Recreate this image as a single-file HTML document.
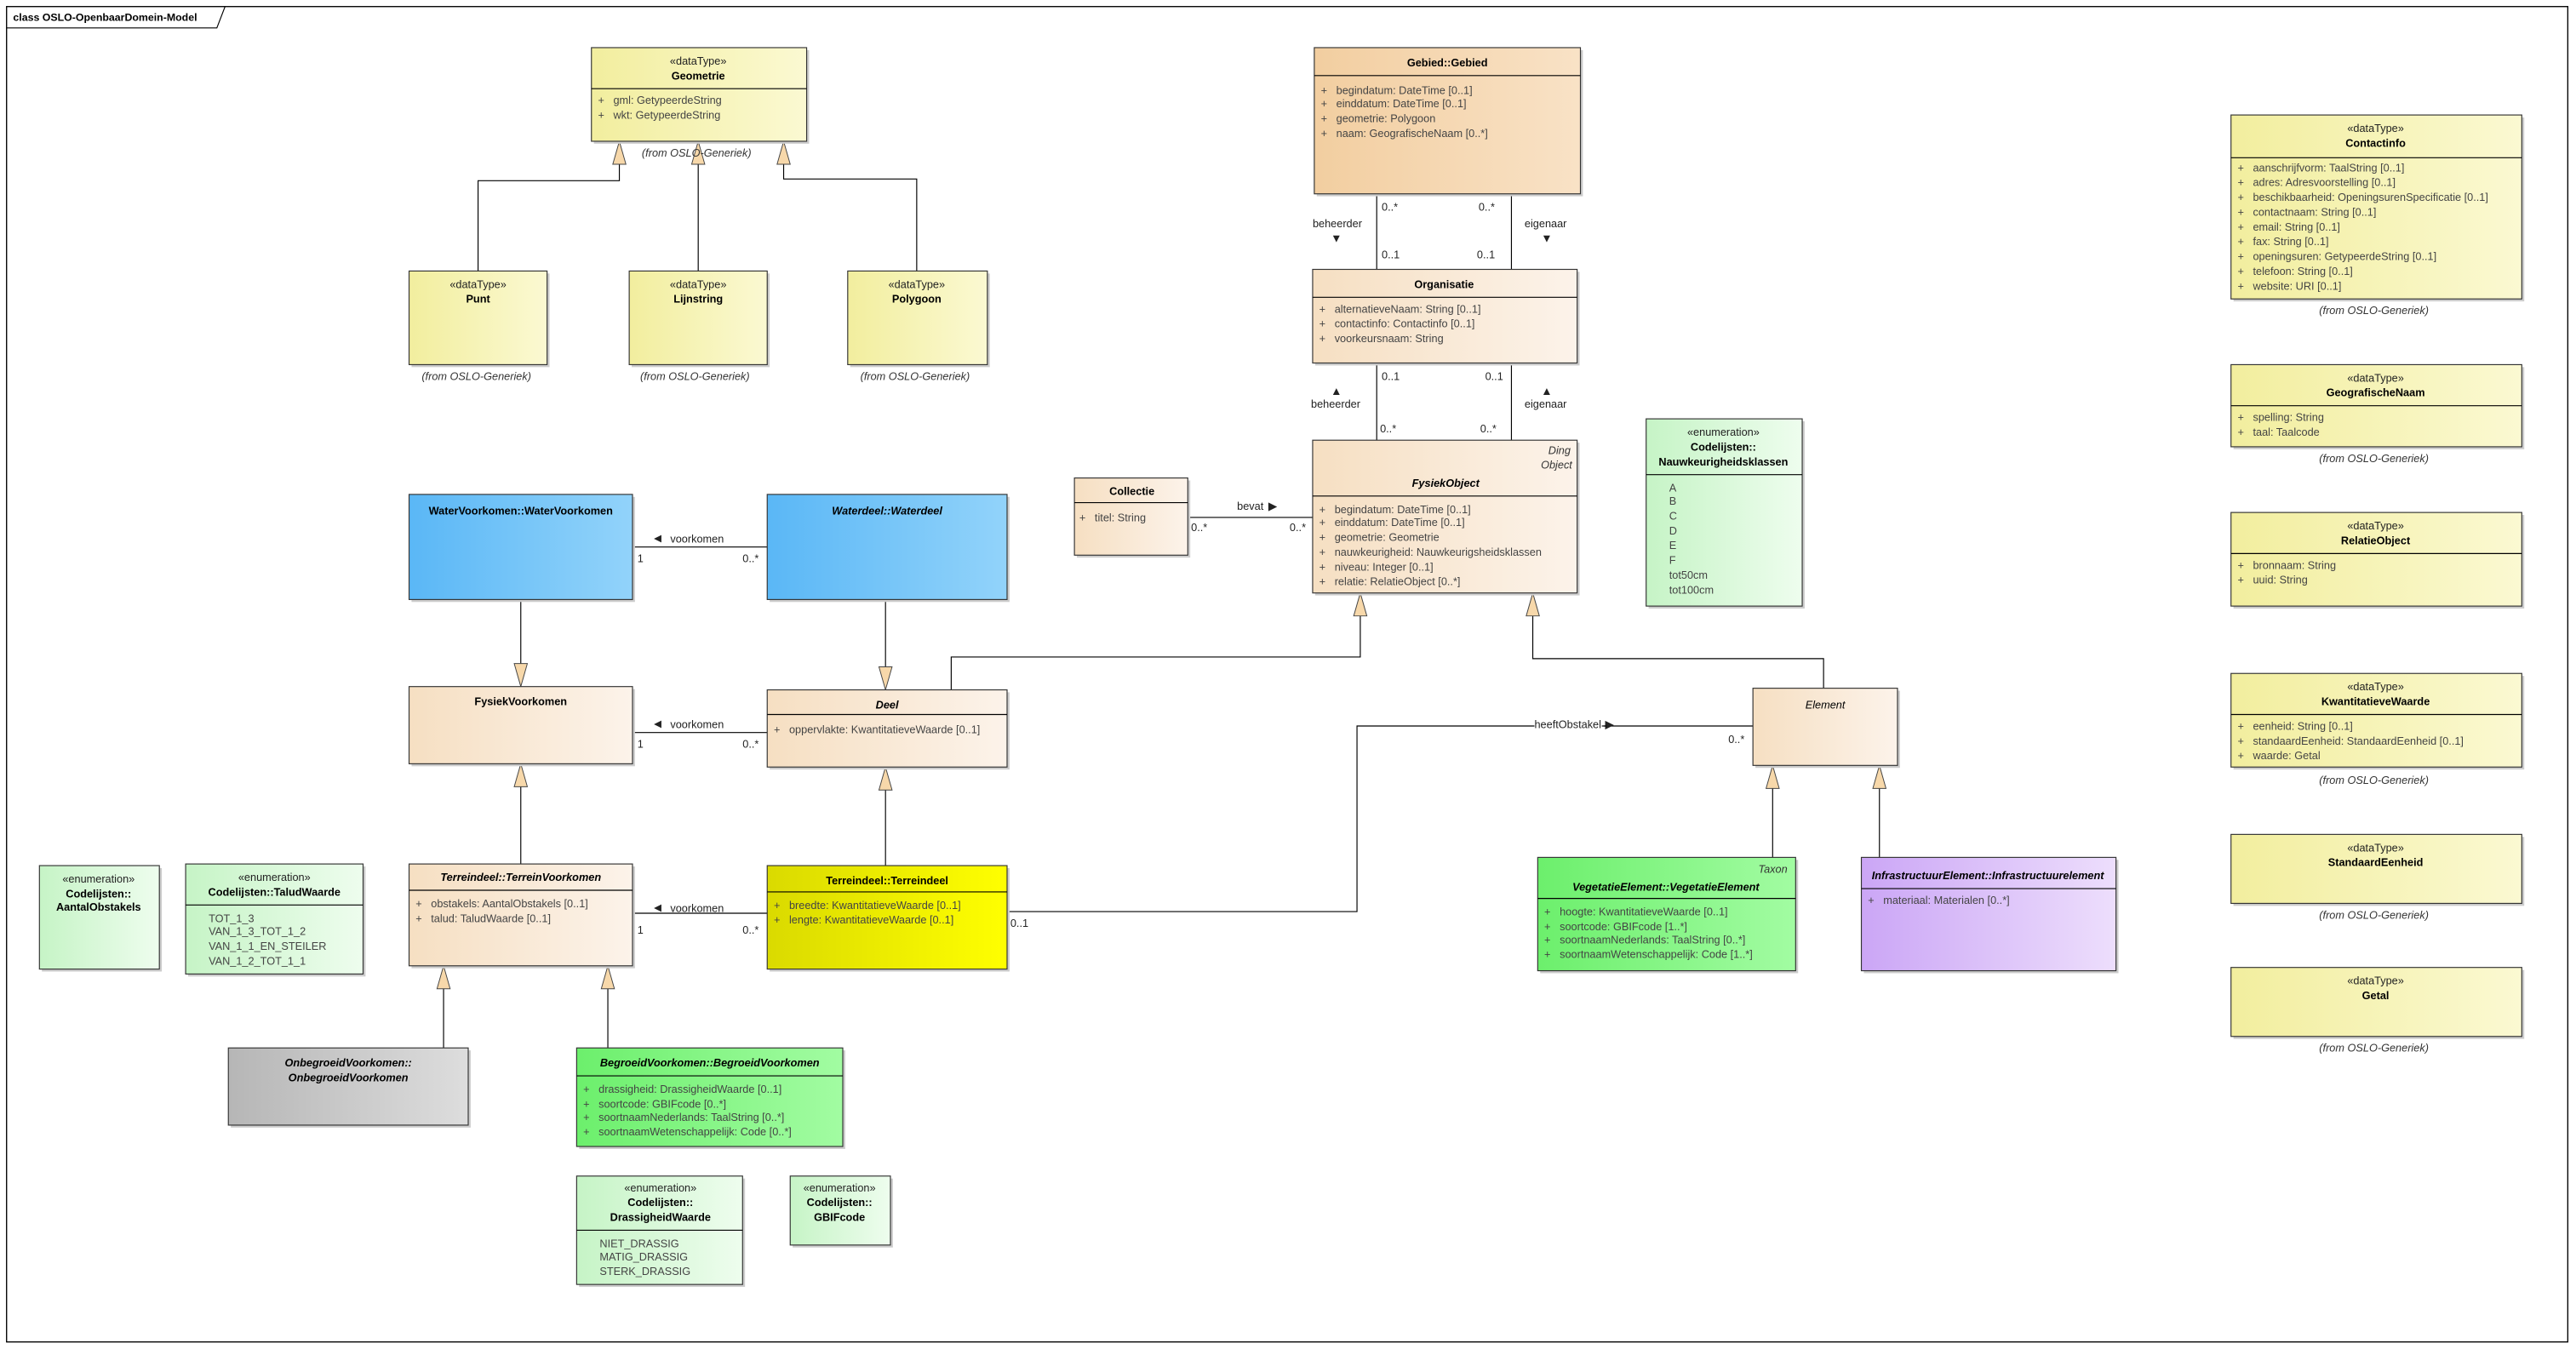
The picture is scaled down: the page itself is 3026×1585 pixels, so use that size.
<!DOCTYPE html>
<html><head><meta charset="utf-8"><style>
html,body{margin:0;padding:0;background:#fff}
svg{display:block}
text{font-family:"Liberation Sans",sans-serif;font-size:6.6px;fill:#222;dominant-baseline:central}
.a{fill:#444}
.b{font-weight:bold;fill:#000;text-anchor:middle}
.bi{font-weight:bold;font-style:italic;fill:#000;text-anchor:middle}
.c{text-anchor:middle}
.i{font-style:italic;text-anchor:middle;fill:#333}
.r{font-style:italic;text-anchor:end;fill:#333}
.box{stroke:#333;stroke-width:0.6}
.sh{fill:#ccc}
.ln{stroke:#000;stroke-width:0.6;fill:none}
.tri{fill:#f7d8aa;stroke:#444;stroke-width:0.5}
</style></head><body>
<svg width="3026" height="1585" viewBox="0 0 1568 821.3" preserveAspectRatio="none" xmlns="http://www.w3.org/2000/svg">
<defs>
<linearGradient id="gy"><stop offset="0" stop-color="#f2ee9e"/><stop offset="1" stop-color="#fbf9d2"/></linearGradient>
<linearGradient id="gp"><stop offset="0" stop-color="#f6dfc2"/><stop offset="1" stop-color="#fcf3ea"/></linearGradient>
<linearGradient id="go"><stop offset="0" stop-color="#f2cea0"/><stop offset="1" stop-color="#f9e2c6"/></linearGradient>
<linearGradient id="gg"><stop offset="0" stop-color="#c6f4c6"/><stop offset="1" stop-color="#eefdee"/></linearGradient>
<linearGradient id="gb"><stop offset="0" stop-color="#5ab7f6"/><stop offset="1" stop-color="#92d3fa"/></linearGradient>
<linearGradient id="gt"><stop offset="0" stop-color="#dada00"/><stop offset="1" stop-color="#ffff00"/></linearGradient>
<linearGradient id="gn"><stop offset="0" stop-color="#6cef6c"/><stop offset="1" stop-color="#a2fca2"/></linearGradient>
<linearGradient id="gr"><stop offset="0" stop-color="#b6b6b6"/><stop offset="1" stop-color="#dddddd"/></linearGradient>
<linearGradient id="gv"><stop offset="0" stop-color="#cba6f6"/><stop offset="1" stop-color="#eddefc"/></linearGradient>
</defs>
<rect x="0" y="0" width="1568" height="821.3" fill="#fff"/>
<rect x="4" y="4" width="1559" height="813" fill="none" stroke="#000" stroke-width="0.7"/>
<path d="M4 17 H132 L137 4" class="ln"/>
<text x="8" y="10.5" style="font-weight:bold;font-size:6.4px;fill:#000">class OSLO-OpenbaarDomein-Model</text>

<g class="ln">
<path d="M291 165 V110 H377 V86"/>
<path d="M425 165 V86"/>
<path d="M558 165 V109 H477 V86"/>
<path d="M838 118 V164 M920 118 V164"/>
<path d="M838 221 V268 M920 221 V268"/>
<path d="M723 315 H799"/>
<path d="M385 333 H467"/>
<path d="M317 365 V418"/>
<path d="M539 365 V420"/>
<path d="M385 446 H467"/>
<path d="M579 420 V400 H828 V361"/>
<path d="M1110 419 V401 H933 V361"/>
<path d="M613 555 H826 V442 H1067"/>
<path d="M317 526 V465"/>
<path d="M539 527 V467"/>
<path d="M385 556 H467"/>
<path d="M270 638 V588 M370 638 V588"/>
<path d="M1079 522 V466 M1144 522 V466"/>
</g>
<g class="tri">
<polygon points="377,86 373,100 381,100"/>
<polygon points="425,86 421,100 429,100"/>
<polygon points="477,86 473,100 481,100"/>
<polygon points="317,418 313,404 321,404"/>
<polygon points="539,420 535,406 543,406"/>
<polygon points="828,361 824,375 832,375"/>
<polygon points="933,361 929,375 937,375"/>
<polygon points="317,465 313,479 321,479"/>
<polygon points="539,467 535,481 543,481"/>
<polygon points="270,588 266,602 274,602"/>
<polygon points="370,588 366,602 374,602"/>
<polygon points="1079,466 1075,480 1083,480"/>
<polygon points="1144,466 1140,480 1148,480"/>
</g>

<rect class="sh" x="361.5" y="30.5" width="131" height="57"/>
<rect class="box" x="360" y="29" width="131" height="57" fill="url(#gy)"/>
<path class="ln" d="M360 54 H491"/>
<text class="c" x="425" y="37">«dataType»</text><text class="b" x="425" y="46">Geometrie</text>
<text class="a" x="364" y="61">+&#160;&#160;&#160;gml: GetypeerdeString</text>
<text class="a" x="364" y="70">+&#160;&#160;&#160;wkt: GetypeerdeString</text>
<text class="i" x="424" y="93">(from OSLO-Generiek)</text>

<rect class="sh" x="250.5" y="166.5" width="84" height="57"/>
<rect class="box" x="249" y="165" width="84" height="57" fill="url(#gy)"/>
<text class="c" x="291" y="173">«dataType»</text><text class="b" x="291" y="182">Punt</text>
<text class="i" x="290" y="229">(from OSLO-Generiek)</text>
<rect class="sh" x="384.5" y="166.5" width="84" height="57"/>
<rect class="box" x="383" y="165" width="84" height="57" fill="url(#gy)"/>
<text class="c" x="425" y="173">«dataType»</text><text class="b" x="425" y="182">Lijnstring</text>
<text class="i" x="423" y="229">(from OSLO-Generiek)</text>
<rect class="sh" x="517.5" y="166.5" width="85" height="57"/>
<rect class="box" x="516" y="165" width="85" height="57" fill="url(#gy)"/>
<text class="c" x="558" y="173">«dataType»</text><text class="b" x="558" y="182">Polygoon</text>
<text class="i" x="557" y="229">(from OSLO-Generiek)</text>

<rect class="sh" x="801.5" y="30.5" width="162" height="89"/>
<rect class="box" x="800" y="29" width="162" height="89" fill="url(#go)"/>
<path class="ln" d="M800 46 H962"/>
<text class="b" x="881" y="38">Gebied::Gebied</text>
<text class="a" x="804" y="55">+&#160;&#160;&#160;begindatum: DateTime [0..1]</text>
<text class="a" x="804" y="63">+&#160;&#160;&#160;einddatum: DateTime [0..1]</text>
<text class="a" x="804" y="72">+&#160;&#160;&#160;geometrie: Polygoon</text>
<text class="a" x="804" y="81">+&#160;&#160;&#160;naam: GeografischeNaam [0..*]</text>
<text x="841" y="126">0..*</text><text x="900" y="126">0..*</text>
<text x="799" y="136">beheerder</text><text x="928" y="136">eigenaar</text>
<text x="810" y="145" style="font-size:7px">▼</text><text x="938" y="145" style="font-size:7px">▼</text>
<text x="841" y="155">0..1</text><text x="899" y="155">0..1</text>

<rect class="sh" x="800.5" y="165.5" width="161" height="57"/>
<rect class="box" x="799" y="164" width="161" height="57" fill="url(#gp)"/>
<path class="ln" d="M799 181 H960"/>
<text class="b" x="879" y="173">Organisatie</text>
<text class="a" x="803" y="188">+&#160;&#160;&#160;alternatieveNaam: String [0..1]</text>
<text class="a" x="803" y="197">+&#160;&#160;&#160;contactinfo: Contactinfo [0..1]</text>
<text class="a" x="803" y="206">+&#160;&#160;&#160;voorkeursnaam: String</text>
<text x="841" y="229">0..1</text><text x="904" y="229">0..1</text>
<text x="810" y="238" style="font-size:7px">▲</text><text x="938" y="238" style="font-size:7px">▲</text>
<text x="798" y="246">beheerder</text><text x="928" y="246">eigenaar</text>
<text x="840" y="261">0..*</text><text x="901" y="261">0..*</text>

<rect class="sh" x="800.5" y="269.5" width="161" height="93"/>
<rect class="box" x="799" y="268" width="161" height="93" fill="url(#gp)"/>
<path class="ln" d="M799 302 H960"/>
<text class="r" x="956" y="274">Ding</text><text class="r" x="957" y="283">Object</text>
<text class="bi" x="880" y="294">FysiekObject</text>
<text class="a" x="803" y="310">+&#160;&#160;&#160;begindatum: DateTime [0..1]</text>
<text class="a" x="803" y="318">+&#160;&#160;&#160;einddatum: DateTime [0..1]</text>
<text class="a" x="803" y="327">+&#160;&#160;&#160;geometrie: Geometrie</text>
<text class="a" x="803" y="336">+&#160;&#160;&#160;nauwkeurigheid: Nauwkeurigsheidsklassen</text>
<text class="a" x="803" y="345">+&#160;&#160;&#160;niveau: Integer [0..1]</text>
<text class="a" x="803" y="354">+&#160;&#160;&#160;relatie: RelatieObject [0..*]</text>

<rect class="sh" x="655.5" y="292.5" width="69" height="47"/>
<rect class="box" x="654" y="291" width="69" height="47" fill="url(#gp)"/>
<path class="ln" d="M654 306 H723"/>
<text class="b" x="689" y="299">Collectie</text>
<text class="a" x="657" y="315">+&#160;&#160;&#160;titel: String</text>
<text x="753" y="308">bevat</text><text x="772" y="308" style="font-size:7px">▶</text>
<text x="725" y="321">0..*</text><text x="785" y="321">0..*</text>

<rect class="sh" x="1003.5" y="256.5" width="95" height="114"/>
<rect class="box" x="1002" y="255" width="95" height="114" fill="url(#gg)"/>
<path class="ln" d="M1002 289 H1097"/>
<text class="c" x="1049" y="263">«enumeration»</text>
<text class="b" x="1049" y="272">Codelijsten::</text>
<text class="b" x="1049" y="281">Nauwkeurigheidsklassen</text>
<text class="a" x="1016" y="297">A</text><text class="a" x="1016" y="305">B</text><text class="a" x="1016" y="314">C</text>
<text class="a" x="1016" y="323">D</text><text class="a" x="1016" y="332">E</text><text class="a" x="1016" y="341">F</text>
<text class="a" x="1016" y="350">tot50cm</text><text class="a" x="1016" y="359">tot100cm</text>

<rect class="sh" x="250.5" y="302.5" width="136" height="64"/>
<rect class="box" x="249" y="301" width="136" height="64" fill="url(#gb)"/>
<text class="b" x="317" y="311">WaterVoorkomen::WaterVoorkomen</text>
<rect class="sh" x="468.5" y="302.5" width="146" height="64"/>
<rect class="box" x="467" y="301" width="146" height="64" fill="url(#gb)"/>
<text class="bi" x="540" y="311">Waterdeel::Waterdeel</text>
<text x="398" y="328" style="font-size:6px">◀</text><text x="408" y="328">voorkomen</text>
<text x="388" y="340">1</text><text x="452" y="340">0..*</text>

<rect class="sh" x="250.5" y="419.5" width="136" height="47"/>
<rect class="box" x="249" y="418" width="136" height="47" fill="url(#gp)"/>
<text class="b" x="317" y="427">FysiekVoorkomen</text>
<rect class="sh" x="468.5" y="421.5" width="146" height="47"/>
<rect class="box" x="467" y="420" width="146" height="47" fill="url(#gp)"/>
<path class="ln" d="M467 435 H613"/>
<text class="bi" x="540" y="429">Deel</text>
<text class="a" x="471" y="444">+&#160;&#160;&#160;oppervlakte: KwantitatieveWaarde [0..1]</text>
<text x="398" y="441" style="font-size:6px">◀</text><text x="408" y="441">voorkomen</text>
<text x="388" y="453">1</text><text x="452" y="453">0..*</text>

<rect class="sh" x="1068.5" y="420.5" width="88" height="47"/>
<rect class="box" x="1067" y="419" width="88" height="47" fill="url(#gp)"/>
<text class="i" x="1111" y="429" style="fill:#000">Element</text>
<rect x="934" y="437" width="42" height="9" fill="#fff"/>
<text x="934" y="441">heeftObstakel</text><text x="977" y="441" style="font-size:7px">▶</text>
<path class="ln" d="M975 442 H978"/>
<text x="1052" y="450">0..*</text>
<text x="615" y="562">0..1</text>

<rect class="sh" x="250.5" y="527.5" width="136" height="62"/>
<rect class="box" x="249" y="526" width="136" height="62" fill="url(#gp)"/>
<path class="ln" d="M249 542 H385"/>
<text class="bi" x="317" y="534">Terreindeel::TerreinVoorkomen</text>
<text class="a" x="253" y="550">+&#160;&#160;&#160;obstakels: AantalObstakels [0..1]</text>
<text class="a" x="253" y="559">+&#160;&#160;&#160;talud: TaludWaarde [0..1]</text>
<rect class="sh" x="468.5" y="528.5" width="146" height="63"/>
<rect class="box" x="467" y="527" width="146" height="63" fill="url(#gt)"/>
<path class="ln" d="M467 543 H613"/>
<text class="b" x="540" y="536">Terreindeel::Terreindeel</text>
<text class="a" x="471" y="551">+&#160;&#160;&#160;breedte: KwantitatieveWaarde [0..1]</text>
<text class="a" x="471" y="560">+&#160;&#160;&#160;lengte: KwantitatieveWaarde [0..1]</text>
<text x="398" y="553" style="font-size:6px">◀</text><text x="408" y="553">voorkomen</text>
<text x="388" y="566">1</text><text x="452" y="566">0..*</text>

<rect class="sh" x="25.5" y="528.5" width="73" height="63"/>
<rect class="box" x="24" y="527" width="73" height="63" fill="url(#gg)"/>
<text class="c" x="60" y="535">«enumeration»</text>
<text class="b" x="60" y="544">Codelijsten::</text>
<text class="b" x="60" y="552">AantalObstakels</text>
<rect class="sh" x="114.5" y="527.5" width="108" height="67"/>
<rect class="box" x="113" y="526" width="108" height="67" fill="url(#gg)"/>
<path class="ln" d="M113 551 H221"/>
<text class="c" x="167" y="534">«enumeration»</text>
<text class="b" x="167" y="543">Codelijsten::TaludWaarde</text>
<text class="a" x="127" y="559">TOT_1_3</text>
<text class="a" x="127" y="567">VAN_1_3_TOT_1_2</text>
<text class="a" x="127" y="576">VAN_1_1_EN_STEILER</text>
<text class="a" x="127" y="585">VAN_1_2_TOT_1_1</text>

<rect class="sh" x="140.5" y="639.5" width="146" height="47"/>
<rect class="box" x="139" y="638" width="146" height="47" fill="url(#gr)"/>
<text class="bi" x="212" y="647">OnbegroeidVoorkomen::</text>
<text class="bi" x="212" y="656">OnbegroeidVoorkomen</text>
<rect class="sh" x="352.5" y="639.5" width="162" height="60"/>
<rect class="box" x="351" y="638" width="162" height="60" fill="url(#gn)"/>
<path class="ln" d="M351 655 H513"/>
<text class="bi" x="432" y="647">BegroeidVoorkomen::BegroeidVoorkomen</text>
<text class="a" x="355" y="663">+&#160;&#160;&#160;drassigheid: DrassigheidWaarde [0..1]</text>
<text class="a" x="355" y="672">+&#160;&#160;&#160;soortcode: GBIFcode [0..*]</text>
<text class="a" x="355" y="680">+&#160;&#160;&#160;soortnaamNederlands: TaalString [0..*]</text>
<text class="a" x="355" y="689">+&#160;&#160;&#160;soortnaamWetenschappelijk: Code [0..*]</text>

<rect class="sh" x="352.5" y="717.5" width="101" height="66"/>
<rect class="box" x="351" y="716" width="101" height="66" fill="url(#gg)"/>
<path class="ln" d="M351 749 H452"/>
<text class="c" x="402" y="723">«enumeration»</text>
<text class="b" x="402" y="732">Codelijsten::</text>
<text class="b" x="402" y="741">DrassigheidWaarde</text>
<text class="a" x="365" y="757">NIET_DRASSIG</text>
<text class="a" x="365" y="765">MATIG_DRASSIG</text>
<text class="a" x="365" y="774">STERK_DRASSIG</text>
<rect class="sh" x="482.5" y="717.5" width="61" height="42"/>
<rect class="box" x="481" y="716" width="61" height="42" fill="url(#gg)"/>
<text class="c" x="511" y="723">«enumeration»</text>
<text class="b" x="511" y="732">Codelijsten::</text>
<text class="b" x="511" y="741">GBIFcode</text>

<rect class="sh" x="937.5" y="523.5" width="157" height="69"/>
<rect class="box" x="936" y="522" width="157" height="69" fill="url(#gn)"/>
<path class="ln" d="M936 547 H1093"/>
<text class="r" x="1088" y="529">Taxon</text>
<text class="bi" x="1014" y="540">VegetatieElement::VegetatieElement</text>
<text class="a" x="940" y="555">+&#160;&#160;&#160;hoogte: KwantitatieveWaarde [0..1]</text>
<text class="a" x="940" y="564">+&#160;&#160;&#160;soortcode: GBIFcode [1..*]</text>
<text class="a" x="940" y="572">+&#160;&#160;&#160;soortnaamNederlands: TaalString [0..*]</text>
<text class="a" x="940" y="581">+&#160;&#160;&#160;soortnaamWetenschappelijk: Code [1..*]</text>
<rect class="sh" x="1134.5" y="523.5" width="155" height="69"/>
<rect class="box" x="1133" y="522" width="155" height="69" fill="url(#gv)"/>
<path class="ln" d="M1133 541 H1288"/>
<text class="bi" x="1210" y="533">InfrastructuurElement::Infrastructuurelement</text>
<text class="a" x="1137" y="548">+&#160;&#160;&#160;materiaal: Materialen [0..*]</text>

<rect class="sh" x="1359.5" y="71.5" width="177" height="112"/>
<rect class="box" x="1358" y="70" width="177" height="112" fill="url(#gy)"/>
<path class="ln" d="M1358 96 H1535"/>
<text class="c" x="1446" y="78">«dataType»</text><text class="b" x="1446" y="87">Contactinfo</text>
<text class="a" x="1362" y="102">+&#160;&#160;&#160;aanschrijfvorm: TaalString [0..1]</text>
<text class="a" x="1362" y="111">+&#160;&#160;&#160;adres: Adresvoorstelling [0..1]</text>
<text class="a" x="1362" y="120">+&#160;&#160;&#160;beschikbaarheid: OpeningsurenSpecificatie [0..1]</text>
<text class="a" x="1362" y="129">+&#160;&#160;&#160;contactnaam: String [0..1]</text>
<text class="a" x="1362" y="138">+&#160;&#160;&#160;email: String [0..1]</text>
<text class="a" x="1362" y="147">+&#160;&#160;&#160;fax: String [0..1]</text>
<text class="a" x="1362" y="156">+&#160;&#160;&#160;openingsuren: GetypeerdeString [0..1]</text>
<text class="a" x="1362" y="165">+&#160;&#160;&#160;telefoon: String [0..1]</text>
<text class="a" x="1362" y="174">+&#160;&#160;&#160;website: URI [0..1]</text>
<text class="i" x="1445" y="189">(from OSLO-Generiek)</text>

<rect class="sh" x="1359.5" y="223.5" width="177" height="50"/>
<rect class="box" x="1358" y="222" width="177" height="50" fill="url(#gy)"/>
<path class="ln" d="M1358 247 H1535"/>
<text class="c" x="1446" y="230">«dataType»</text><text class="b" x="1446" y="239">GeografischeNaam</text>
<text class="a" x="1362" y="254">+&#160;&#160;&#160;spelling: String</text>
<text class="a" x="1362" y="263">+&#160;&#160;&#160;taal: Taalcode</text>
<text class="i" x="1445" y="279">(from OSLO-Generiek)</text>

<rect class="sh" x="1359.5" y="313.5" width="177" height="57"/>
<rect class="box" x="1358" y="312" width="177" height="57" fill="url(#gy)"/>
<path class="ln" d="M1358 337 H1535"/>
<text class="c" x="1446" y="320">«dataType»</text><text class="b" x="1446" y="329">RelatieObject</text>
<text class="a" x="1362" y="344">+&#160;&#160;&#160;bronnaam: String</text>
<text class="a" x="1362" y="353">+&#160;&#160;&#160;uuid: String</text>

<rect class="sh" x="1359.5" y="411.5" width="177" height="57"/>
<rect class="box" x="1358" y="410" width="177" height="57" fill="url(#gy)"/>
<path class="ln" d="M1358 435 H1535"/>
<text class="c" x="1446" y="418">«dataType»</text><text class="b" x="1446" y="427">KwantitatieveWaarde</text>
<text class="a" x="1362" y="442">+&#160;&#160;&#160;eenheid: String [0..1]</text>
<text class="a" x="1362" y="451">+&#160;&#160;&#160;standaardEenheid: StandaardEenheid [0..1]</text>
<text class="a" x="1362" y="460">+&#160;&#160;&#160;waarde: Getal</text>
<text class="i" x="1445" y="475">(from OSLO-Generiek)</text>

<rect class="sh" x="1359.5" y="509.5" width="177" height="42"/>
<rect class="box" x="1358" y="508" width="177" height="42" fill="url(#gy)"/>
<text class="c" x="1446" y="516">«dataType»</text><text class="b" x="1446" y="525">StandaardEenheid</text>
<text class="i" x="1445" y="557">(from OSLO-Generiek)</text>

<rect class="sh" x="1359.5" y="590.5" width="177" height="42"/>
<rect class="box" x="1358" y="589" width="177" height="42" fill="url(#gy)"/>
<text class="c" x="1446" y="597">«dataType»</text><text class="b" x="1446" y="606">Getal</text>
<text class="i" x="1445" y="638">(from OSLO-Generiek)</text>
</svg>
</body></html>
